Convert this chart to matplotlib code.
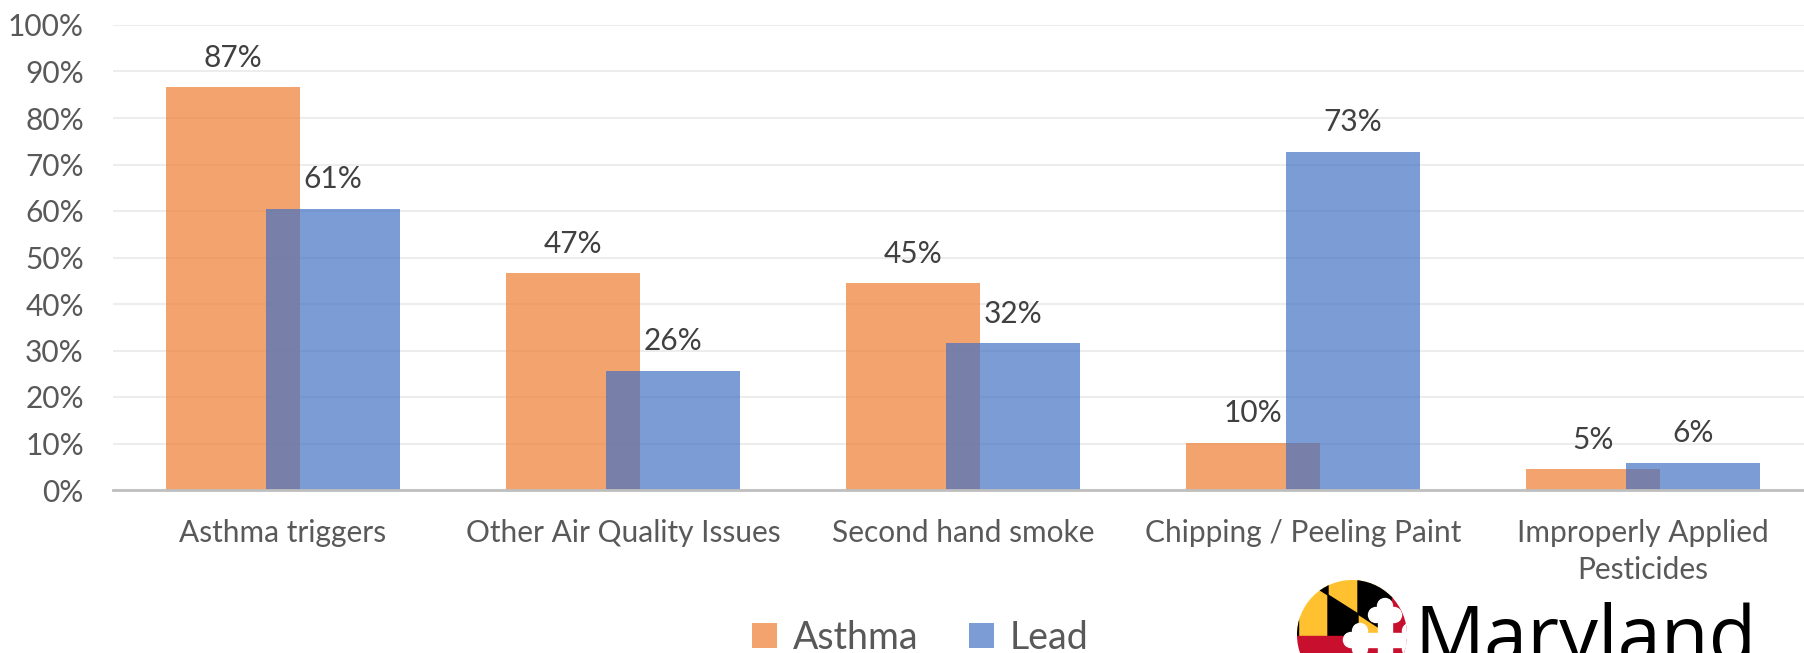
import numpy as np
import matplotlib
matplotlib.use('Agg')
import matplotlib.pyplot as plt
from matplotlib.patches import Circle, Polygon, Rectangle

plt.rcParams['font.family'] = ['Lato', 'DejaVu Sans']

# values (percent)
categories = ['Asthma triggers', 'Other Air Quality Issues', 'Second hand smoke',
              'Chipping / Peeling Paint', 'Improperly Applied\nPesticides']
asthma = [86.6, 46.6, 44.5, 10.2, 4.5]
lead = [60.5, 25.6, 31.6, 72.7, 5.8]
asthma_labels = ['87%', '47%', '45%', '10%', '5%']
lead_labels = ['61%', '26%', '32%', '73%', '6%']

orange = '#ED7D31'
blue = '#4472C4'
text_grey = '#595959'

fig = plt.figure(figsize=(18.04, 6.53), dpi=100)
ax = fig.add_axes([113 / 1804, 1 - 490 / 653, 1700 / 1804, 465 / 653])

x = np.arange(len(categories))
w = 0.392
off = 0.147
b1 = ax.bar(x - off, asthma, width=w, color=orange, alpha=0.7, zorder=2, label='Asthma')
b2 = ax.bar(x + off, lead, width=w, color=blue, alpha=0.7, zorder=3, label='Lead')

for bars, labels in [(b1, asthma_labels), (b2, lead_labels)]:
    for rect, lab in zip(bars, labels):
        ax.annotate(lab, (rect.get_x() + rect.get_width() / 2, rect.get_height()),
                    xytext=(0, 14.8), textcoords='offset points', ha='center', va='baseline',
                    fontsize=21.5, color='#404040', zorder=5)

ax.set_xlim(-0.5, 4.5)
ax.set_ylim(0, 100)
ax.set_yticks(np.arange(0, 101, 10))
ax.set_yticklabels([f'{v}%' for v in range(0, 101, 10)])
ax.set_xticks(x)
ax.set_xticklabels(categories, linespacing=1.4)
ax.tick_params(axis='y', length=0, pad=21, labelsize=21.5, labelcolor=text_grey)
ax.tick_params(axis='x', length=0, pad=21, labelsize=21.5, labelcolor=text_grey)
ax.grid(axis='y', color='#EDEDED', linewidth=1.5, zorder=0)
ax.set_axisbelow(True)
for s in ['top', 'right', 'left']:
    ax.spines[s].set_visible(False)
ax.spines['bottom'].set_color('#BFBFBF')
ax.spines['bottom'].set_linewidth(2)
ax.spines['bottom'].set_zorder(4)

leg = fig.legend(handles=[b1, b2], loc='center', bbox_to_anchor=(920 / 1804, 1 - 638 / 653),
                 ncol=2, frameon=False, fontsize=27, handlelength=0.66, handleheight=0.66,
                 handletextpad=0.42, columnspacing=1.35, borderpad=0, labelcolor=text_grey)

# Maryland logo (decoration), drawn in pixel coordinates
lg = fig.add_axes([0, 0, 1, 1], zorder=10)
lg.set_xlim(0, 1804)
lg.set_ylim(653, 0)
lg.axis('off')
lg.patch.set_alpha(0)

clip = Circle((1352, 635), 55, transform=lg.transData)
yellow = '#FFC12F'
red = '#C8102E'
shapes = [
    Rectangle((1280, 560), 112, 76, color=yellow),
    Polygon([(1268, 576), (1298, 576), (1298, 636), (1268, 636)], color='black'),
    Polygon([(1298, 560), (1328, 560), (1328, 595), (1298, 576)], color='black'),
    Polygon([(1328, 595), (1358, 614), (1358, 636), (1328, 636)], color='black'),
    Polygon([(1358, 560), (1392, 560), (1392, 636), (1358, 614)], color='black'),
    Rectangle((1392, 560), 30, 76, color=red),
    Rectangle((1280, 636), 142, 30, color=red),
]
cx, cy = 1385, 640
hw = 7
shapes += [Rectangle((cx - hw, cy - 30), 2 * hw, 60, color='white'),
           Rectangle((cx - 34, cy - hw), 68, 2 * hw, color='white')]
for dx, dy in [(0, -1), (-1, 0), (1, 0), (0, 1)]:
    tx, ty = cx + dx * 34, cy + dy * 34
    shapes.append(Circle((tx, ty), 7.5, color='white'))
    px, py = -dy, dx
    for s in (-1, 1):
        shapes.append(Circle((tx - dx * 9 + s * px * 9, ty - dy * 9 + s * py * 9), 7.5, color='white'))
for p in shapes:
    lg.add_patch(p)
    p.set_clip_path(clip)

lg.text(1414, 662, 'Maryland', fontsize=56, family=['Open Sans', 'DejaVu Sans'],
        color='black', ha='left', va='baseline')

fig.savefig('out.png', dpi=100)
